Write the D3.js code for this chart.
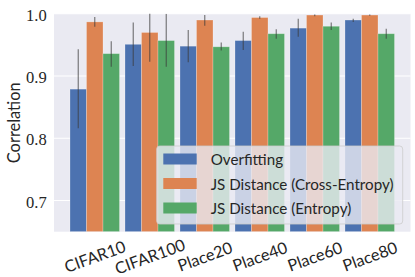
<!DOCTYPE html>
<html>
<head>
<meta charset="utf-8">
<script src="https://cdn.jsdelivr.net/npm/d3@7/dist/d3.min.js"></script>
<style>
  html, body { margin: 0; padding: 0; background: #fff; }
  svg { display: block; }
</style>
</head>
<body>
<script>
// data
var datasets = ["CIFAR10", "CIFAR100", "Place20", "Place40", "Place60", "Place80"];
var seriesNames = ["Overfitting", "JS Distance (Cross-Entropy)", "JS Distance (Entropy)"];
var seriesColors = ["#4C72B0", "#DD8452", "#55A868"];

var overfitting   = [0.879, 0.951, 0.948, 0.957, 0.977, 0.990];
var overfittingLo = [0.816, 0.916, 0.922, 0.942, 0.963, 0.987];
var overfittingHi = [0.943, 0.986, 0.974, 0.971, 0.992, 0.992];

var jsCrossEnt   = [0.987, 0.970, 0.990, 0.994, 0.998, 0.998];
var jsCrossEntLo = [0.979, 0.923, 0.981, 0.992, 0.996, 0.997];
var jsCrossEntHi = [0.995, 1.017, 0.998, 0.996, 0.999, 0.999];

var jsEntropy   = [0.936, 0.957, 0.947, 0.968, 0.980, 0.968];
var jsEntropyLo = [0.915, 0.915, 0.941, 0.960, 0.974, 0.960];
var jsEntropyHi = [0.956, 1.000, 0.954, 0.975, 0.986, 0.976];

var yTicks = [0.7, 0.8, 0.9, 1.0];
var yDomain = [0.65, 1.0];

var W = 415, H = 277;
var plot = {left: 54, right: 410.5, top: 13.8, bottom: 231.7};
var sans = "Lato, DejaVu Sans, sans-serif";

var values = [overfitting, jsCrossEnt, jsEntropy];
var lows = [overfittingLo, jsCrossEntLo, jsEntropyLo];
var highs = [overfittingHi, jsCrossEntHi, jsEntropyHi];

var bars = [];
datasets.forEach(function(d, i) {
    seriesNames.forEach(function(s, j) {
        bars.push({dataset: d, series: s, k: j, value: values[j][i], lo: lows[j][i], hi: highs[j][i]});
    });
});

// scale font size of a text selection so its widest item has the given width
function fitWidth(sel, target) {
    var widest = 0;
    sel.each(function() { widest = Math.max(widest, this.getComputedTextLength()); });
    var fs = parseFloat(sel.attr("font-size"));
    if (widest > 0) sel.attr("font-size", fs * target / widest);
}

var svg = d3.select("body").append("svg")
    .attr("width", W)
    .attr("height", H);

var x = d3.scalePoint()
    .domain(datasets)
    .range([plot.left, plot.right])
    .padding(0.741);

var xInner = d3.scaleBand()
    .domain(seriesNames)
    .range([-24.75, 24.75]);

var y = d3.scaleLinear()
    .domain(yDomain)
    .range([plot.bottom, plot.top]);

svg.append("defs").append("clipPath")
    .attr("id", "plotclip")
    .append("rect")
    .attr("x", plot.left)
    .attr("y", plot.top)
    .attr("width", plot.right - plot.left)
    .attr("height", plot.bottom - plot.top);

// background
svg.append("rect")
    .attr("x", plot.left)
    .attr("y", plot.top)
    .attr("width", plot.right - plot.left)
    .attr("height", plot.bottom - plot.top)
    .attr("fill", "#EAEAF2");

// grid
svg.append("g")
    .selectAll("line")
    .data(yTicks)
    .enter().append("line")
    .attr("x1", plot.left)
    .attr("x2", plot.right)
    .attr("y1", function(d) { return y(d); })
    .attr("y2", function(d) { return y(d); })
    .attr("stroke", "#fff")
    .attr("stroke-width", 1.1);

var g = svg.append("g").attr("clip-path", "url(#plotclip)");

g.selectAll("rect.bar")
    .data(bars)
    .enter().append("rect")
    .attr("class", "bar")
    .attr("x", function(d) { return x(d.dataset) + xInner(d.series); })
    .attr("width", xInner.bandwidth())
    .attr("y", function(d) { return y(d.value); })
    .attr("height", function(d) { return y(yDomain[0]) - y(d.value); })
    .attr("fill", function(d) { return seriesColors[d.k]; })
    .attr("stroke", "#fff")
    .attr("stroke-opacity", 0.3)
    .attr("stroke-width", 0.8);

g.selectAll("line.err")
    .data(bars)
    .enter().append("line")
    .attr("class", "err")
    .attr("x1", function(d) { return x(d.dataset) + xInner(d.series) + xInner.bandwidth() / 2; })
    .attr("x2", function(d) { return x(d.dataset) + xInner(d.series) + xInner.bandwidth() / 2; })
    .attr("y1", function(d) { return y(d.lo); })
    .attr("y2", function(d) { return y(d.hi); })
    .attr("stroke", "#3a3a3a")
    .attr("stroke-opacity", 0.65)
    .attr("stroke-width", 1.2);

// y tick labels
var yLabels = svg.append("g")
    .selectAll("text")
    .data(yTicks)
    .enter().append("text")
    .attr("x", 46.7)
    .attr("y", function(d) { return y(d) + 1.5; })
    .attr("text-anchor", "end")
    .attr("dominant-baseline", "central")
    .attr("font-family", "Liberation Serif, serif")
    .attr("font-size", 16)
    .attr("fill", "#262626")
    .text(function(d) { return d3.format(".1f")(d); });
fitWidth(yLabels, 20.7);

// y axis label
var yTitle = svg.append("text")
    .attr("transform", "translate(13," + ((plot.top + plot.bottom) / 2) + ") rotate(-90)")
    .attr("text-anchor", "middle")
    .attr("dominant-baseline", "central")
    .attr("font-family", sans)
    .attr("font-size", 15)
    .attr("fill", "#262626")
    .text("Correlation");
fitWidth(yTitle, 81);

// x tick labels
var xLabels = svg.append("g")
    .selectAll("text")
    .data(datasets)
    .enter().append("text")
    .attr("transform", function(d) { return "translate(" + x(d) + ",256) rotate(-20)"; })
    .attr("text-anchor", "middle")
    .attr("dominant-baseline", "central")
    .attr("font-family", sans)
    .attr("font-size", 15)
    .attr("fill", "#262626")
    .text(function(d) { return d; });
fitWidth(xLabels.filter(function(d) { return d === "CIFAR10"; }), 64);
xLabels.attr("font-size", xLabels.filter(function(d) { return d === "CIFAR10"; }).attr("font-size"));

// legend
var legend = svg.append("g");
legend.append("rect")
    .attr("x", 156.7)
    .attr("y", 146)
    .attr("width", 246)
    .attr("height", 78)
    .attr("rx", 3)
    .attr("fill", "#EAEAF2")
    .attr("fill-opacity", 0.8)
    .attr("stroke", "#cccccc")
    .attr("stroke-opacity", 0.8)
    .attr("stroke-width", 1);

var rowY = [159, 183.5, 208];
var items = legend.selectAll("g.item")
    .data(seriesNames)
    .enter().append("g")
    .attr("class", "item")
    .attr("transform", function(d, i) { return "translate(0," + rowY[i] + ")"; });

items.append("rect")
    .attr("x", 163.3)
    .attr("y", -5.5)
    .attr("width", 33.4)
    .attr("height", 11)
    .attr("fill", function(d, i) { return seriesColors[i]; });

var legendText = items.append("text")
    .attr("x", 210.7)
    .attr("y", 0)
    .attr("dominant-baseline", "central")
    .attr("font-family", sans)
    .attr("font-size", 14)
    .attr("fill", "#262626")
    .text(function(d) { return d; });
fitWidth(legendText, 183);
</script>
</body>
</html>
